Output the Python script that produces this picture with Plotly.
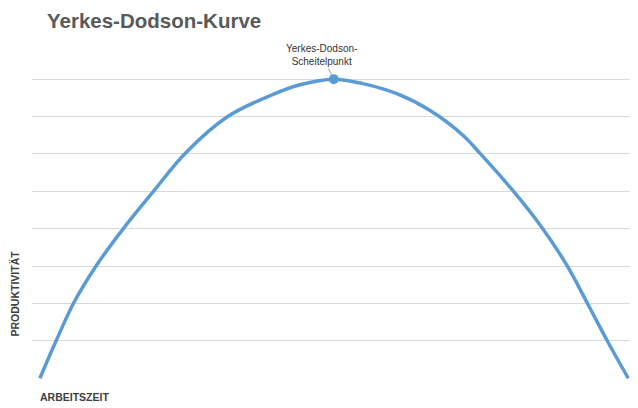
import plotly.graph_objects as go

# Arbeitszeit (arbitrary units) and Produktivität
arbeitszeit = [1.3, 4.0, 6.9, 10.6, 15.2, 20.1, 25.3, 32.3, 39.3, 44.2, 49.8,
               54.6, 60.2, 65.7, 71.1, 73.9, 79.4, 84.2, 88.3, 91.6, 94.9, 98.4]
produktivitaet = [0.0, 1.01, 2.02, 3.01, 4.03, 5.01, 6.02, 7.0, 7.56, 7.85, 8.0,
                  7.88, 7.61, 7.16, 6.50, 6.02, 5.01, 4.02, 3.01, 2.02, 1.01, 0.0]
peak_x = [49.8]
peak_y = [8.0]

blue = "#5b9bd5"
font_main = "Liberation Sans, Arial, sans-serif"

fig = go.Figure()
fig.add_trace(go.Scatter(
    x=arbeitszeit, y=produktivitaet, mode="lines",
    line=dict(color=blue, width=3.5, shape="spline", smoothing=1.0),
    hoverinfo="skip", showlegend=False,
))
fig.add_trace(go.Scatter(
    x=peak_x, y=peak_y, mode="markers",
    marker=dict(color=blue, size=10),
    showlegend=False,
))

fig.add_annotation(
    x=peak_x[0], y=peak_y[0], xref="x", yref="y",
    text="Yerkes-Dodson-<br>Scheitelpunkt",
    showarrow=True, arrowhead=0, arrowwidth=1, arrowcolor="#a0a0a0",
    ax=-12, ay=-24, standoff=5,
    font=dict(family=font_main, size=10, color="#333333"),
)

fig.add_annotation(
    x=0.0215, y=1.062, xref="paper", yref="paper", xanchor="left", yanchor="middle",
    text="<b>Yerkes-Dodson-Kurve</b>", showarrow=False,
    font=dict(family=font_main, size=20.5, color="#595959"),
)
fig.add_annotation(
    x=-0.028, y=0.253, xref="paper", yref="paper", xanchor="center", yanchor="middle",
    text="<b>PRODUKTIVITÄT</b>", textangle=-90, showarrow=False,
    font=dict(family=font_main, size=10.5, color="#404040"),
)
fig.add_annotation(
    x=0.0099, y=-0.053, xref="paper", yref="paper", xanchor="left", yanchor="middle",
    text="<b>ARBEITSZEIT</b>", showarrow=False,
    font=dict(family=font_main, size=10.5, color="#404040"),
)

# page body has an 8px margin in the browser; compensate in the margins
fig.update_layout(
    width=638, height=408,
    margin=dict(l=24, r=8, t=33, b=37),
    paper_bgcolor="white", plot_bgcolor="white",
    xaxis=dict(range=[0, 100], showgrid=False, zeroline=False, showticklabels=False,
               showline=False, ticks=""),
    yaxis=dict(range=[-0.02, 9.02], tick0=0, dtick=1, showgrid=True, gridcolor="#d9d9d9",
               gridwidth=1, zeroline=False, showticklabels=False, showline=False, ticks=""),
)

fig.write_html("out.html")
